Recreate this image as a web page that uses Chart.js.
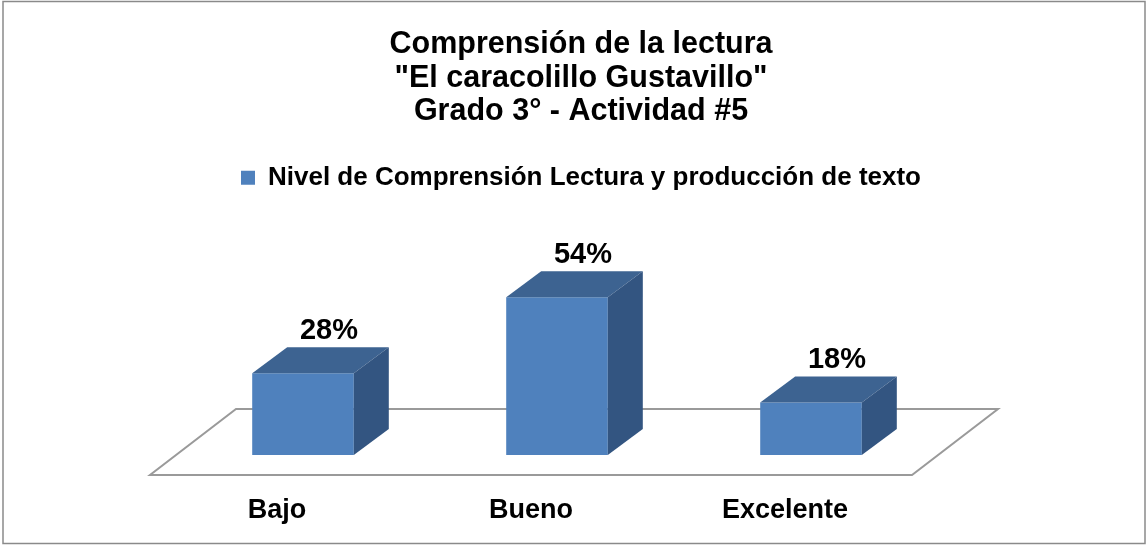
<!DOCTYPE html>
<html>
<head>
<meta charset="utf-8">
<title>Comprensión de la lectura</title>
<script src="https://cdn.jsdelivr.net/npm/chart.js"></script>
<style>
  body { margin: 0; background: #fff; }
  canvas { display: block; }
</style>
</head>
<body>
<canvas id="lecturaChart" width="1147" height="545"></canvas>
<script>
var niveles = ["Bajo", "Bueno", "Excelente"];
var porcentajes = [28, 54, 18];
var titulo = ["Comprensión de la lectura", "\"El caracolillo Gustavillo\"", "Grado 3° - Actividad #5"];
var serie = "Nivel de Comprensión Lectura y producción de texto";

var fuente = "'Liberation Sans', Arial, sans-serif";
var colorFrente = "#4F81BD";
var colorArriba = "#3D6391";
var colorLado = "#335581";
// desplazamiento de la profundidad 3D
var prof = { dx: 35, dy: -26 };

var efecto3d = {
	id: "efecto3d",
	beforeDatasetsDraw: function(chart) {
		var ctx = chart.ctx;
		var area = chart.chartArea;
		var base = chart.scales.y.getPixelForValue(0);
		// piso en perspectiva
		ctx.save();
		ctx.beginPath();
		ctx.moveTo(area.left - 26, base + 20);
		ctx.lineTo(area.right - 26, base + 20);
		ctx.lineTo(area.right + 60, base - 46);
		ctx.lineTo(area.left + 60, base - 46);
		ctx.closePath();
		ctx.fillStyle = "#fff";
		ctx.fill();
		ctx.lineWidth = 2;
		ctx.strokeStyle = "#9a9a9a";
		ctx.stroke();
		ctx.restore();
	},
	afterDatasetsDraw: function(chart) {
		var ctx = chart.ctx;
		var meta = chart.getDatasetMeta(0);
		ctx.save();
		meta.data.forEach(function(bar, i) {
			var izq = bar.x - bar.width / 2;
			var der = bar.x + bar.width / 2;
			var y = bar.y;
			var base = bar.base;
			// cara superior
			ctx.beginPath();
			ctx.moveTo(izq, y);
			ctx.lineTo(izq + prof.dx, y + prof.dy);
			ctx.lineTo(der + prof.dx, y + prof.dy);
			ctx.lineTo(der, y);
			ctx.closePath();
			ctx.fillStyle = colorArriba;
			ctx.fill();
			// cara lateral
			ctx.beginPath();
			ctx.moveTo(der, y);
			ctx.lineTo(der + prof.dx, y + prof.dy);
			ctx.lineTo(der + prof.dx, base + prof.dy);
			ctx.lineTo(der, base);
			ctx.closePath();
			ctx.fillStyle = colorLado;
			ctx.fill();

			// etiqueta de datos
			ctx.fillStyle = "#000";
			ctx.textAlign = "center";
			ctx.textBaseline = "alphabetic";
			ctx.font = "bold 29px " + fuente;
			ctx.fillText(porcentajes[i] + "%", bar.x + 26, y - 34);

			// etiqueta de categoria en el borde del piso
			ctx.font = "bold 27px " + fuente;
			ctx.fillText(niveles[i], bar.x - 26, base + 63);
		});
		ctx.restore();
	},
	afterDraw: function(chart) {
		var ctx = chart.ctx;
		ctx.save();
		ctx.lineWidth = 1.5;
		ctx.strokeStyle = "#8a8a8a";
		ctx.strokeRect(3, 1.5, 1142, 542);
		ctx.restore();
	}
};

var ctx = document.getElementById("lecturaChart").getContext("2d");
var lecturaChart = new Chart(ctx, {
	type: "bar",
	data: {
		labels: niveles,
		datasets: [{
			label: serie,
			data: porcentajes,
			backgroundColor: colorFrente,
			borderWidth: 0,
			barPercentage: 0.4,
			categoryPercentage: 1.0
		}]
	},
	options: {
		responsive: false,
		animation: false,
		devicePixelRatio: 1,
		layout: {
			padding: { top: 0, left: 15, right: 0, bottom: 90 }
		},
		plugins: {
			title: {
				display: true,
				text: titulo,
				color: "#000",
				font: { family: fuente, size: 30.5, weight: "bold", lineHeight: 1.1 },
				padding: { top: 28, bottom: 26 }
			},
			legend: {
				display: true,
				labels: {
					color: "#000",
					font: { family: fuente, size: 26, weight: "bold" },
					boxWidth: 14,
					boxHeight: 14,
					padding: 10
				}
			},
			tooltip: { enabled: false }
		},
		scales: {
			x: { display: false },
			y: {
				display: true,
				min: 0,
				max: 87,
				ticks: { display: false },
				grid: { display: false },
				border: { display: false },
				afterFit: function(scale) { scale.width = 161; }
			},
			y2: {
				display: true,
				position: "right",
				min: 0,
				max: 1,
				ticks: { display: false },
				grid: { display: false },
				border: { display: false },
				afterFit: function(scale) { scale.width = 209; }
			}
		}
	},
	plugins: [efecto3d]
});
</script>
</body>
</html>
